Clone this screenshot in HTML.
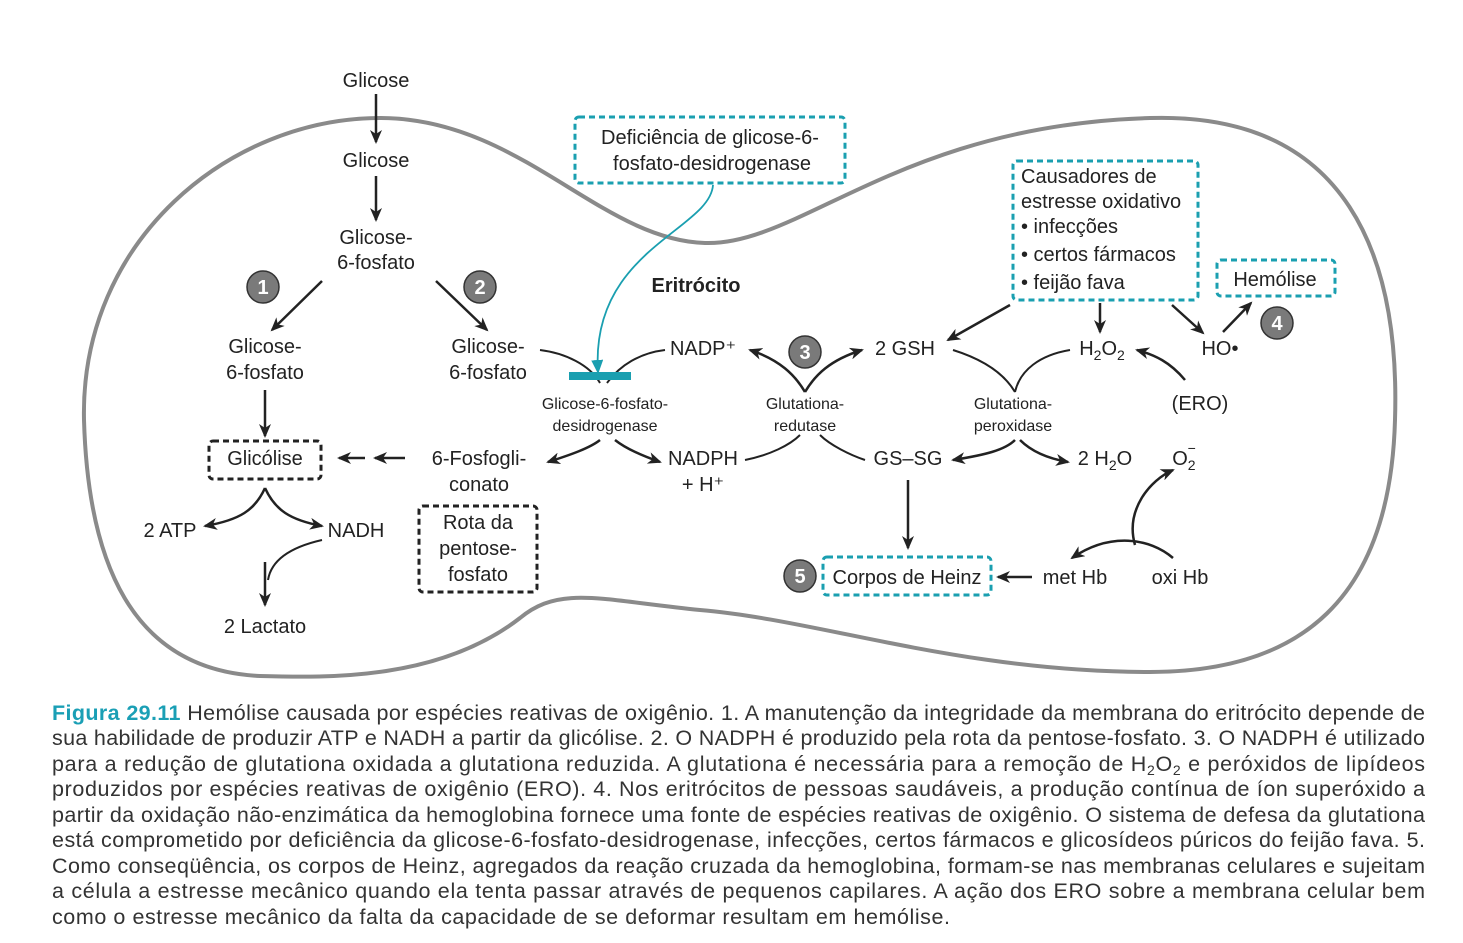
<!DOCTYPE html>
<html><head><meta charset="utf-8"><style>
html,body{margin:0;padding:0;background:#fff}
svg{display:block}
text{font-family:"Liberation Sans",sans-serif;fill:#222}
.t{font-size:20px}
.s{font-size:16px}
.c{font-size:21.5px;fill:#333}
</style></head><body>
<svg width="1463" height="943" viewBox="0 0 1463 943">
<defs>
<marker id="at" markerWidth="14" markerHeight="12" refX="12" refY="6" orient="auto" markerUnits="userSpaceOnUse"><path d="M0,0 L14,6 L0,12 L4,6z" fill="#222"/></marker>
<marker id="tl" markerWidth="14" markerHeight="12" refX="12" refY="6" orient="auto" markerUnits="userSpaceOnUse"><path d="M0,0 L14,6 L0,12z" fill="#1a9fb0"/></marker>
</defs>
<path d="M84,420 C80,240 230,118 380,118 C520,118 600,240 705,243 C800,246 900,125 1150,118 C1350,112 1400,260 1395,420 C1390,600 1300,672 1150,672 C960,672 820,620 700,610 C600,600 560,585 520,618 C440,680 330,678 260,676 C130,670 88,560 84,420 Z" fill="none" stroke="#8a8a8a" stroke-width="4"/>
<g stroke="#222" stroke-width="2.5" fill="none" marker-end="url(#at)">
<line x1="376" y1="94" x2="376" y2="142"/>
<line x1="376" y1="176" x2="376" y2="220"/>
<line x1="322" y1="281" x2="272" y2="330"/>
<line x1="436" y1="281" x2="487" y2="330"/>
<line x1="265" y1="390" x2="265" y2="436"/>
<line x1="405" y1="458" x2="375" y2="458"/>
<line x1="365" y1="458" x2="339" y2="458"/>
<path d="M265,488 C255,510 240,520 205,526"/>
<path d="M265,488 C275,510 290,520 322,526"/>
<line x1="265" y1="562" x2="265" y2="605"/>
<line x1="908" y1="480" x2="908" y2="548"/>
<line x1="1032" y1="577" x2="998" y2="577"/>
<line x1="1010" y1="305" x2="948" y2="340"/>
<line x1="1100" y1="303" x2="1100" y2="332"/>
<line x1="1172" y1="305" x2="1203" y2="333"/>
<line x1="1223" y1="332" x2="1251" y2="303"/>
<path d="M1185,380 C1170,362 1155,355 1137,350"/>
<path d="M1135,545 C1125,510 1150,480 1173,470"/>
<path d="M1173,558 C1150,538 1110,532 1072,558"/>
<path d="M600,440 C590,448 570,455 548,462"/>
<path d="M615,440 C625,448 640,455 660,462"/>
<path d="M805,392 C795,375 780,360 750,350"/>
<path d="M805,392 C815,375 830,360 862,350"/>
<path d="M1015,440 C1005,450 985,455 953,460"/>
<path d="M1020,440 C1030,450 1045,458 1068,462"/>
</g>
<g stroke="#222" stroke-width="2" fill="none">
<path d="M322,540 C300,545 272,555 268,580"/>
<path d="M540,350 C565,353 590,365 600,383"/>
<path d="M665,350 C640,353 620,365 607,383"/>
<path d="M745,460 C770,455 790,445 800,435"/>
<path d="M820,435 C830,445 850,455 865,460"/>
<path d="M953,350 C985,360 1005,375 1015,392"/>
<path d="M1070,350 C1040,355 1020,370 1015,392"/>
</g>
<path d="M713,185 C710,230 590,250 598,372" stroke="#1a9fb0" stroke-width="1.8" fill="none" marker-end="url(#tl)"/>
<rect x="569" y="372" width="62" height="8" fill="#1a9fb0"/>
<g fill="none" stroke-width="3" stroke-dasharray="6,4">
<rect x="575" y="117" width="270" height="66" rx="4" stroke="#1a9fb0"/>
<rect x="1013" y="161" width="185" height="139" rx="4" stroke="#1a9fb0"/>
<rect x="1217" y="260" width="118" height="36" rx="4" stroke="#1a9fb0"/>
<rect x="823" y="557" width="168" height="38" rx="4" stroke="#1a9fb0"/>
<rect x="209" y="441" width="112" height="38" rx="4" stroke="#222"/>
<rect x="419" y="506" width="118" height="86" rx="4" stroke="#222"/>
</g>
<g fill="#7a7a7a" stroke="#333" stroke-width="1.5">
<circle cx="263" cy="287" r="16"/><circle cx="480" cy="287" r="16"/><circle cx="805" cy="352" r="16"/><circle cx="1277" cy="323" r="16"/><circle cx="800" cy="576" r="16"/>
</g>
<g font-size="20" font-weight="bold" text-anchor="middle">
<text x="263" y="294" style="fill:#fff">1</text><text x="480" y="294" style="fill:#fff">2</text><text x="805" y="359" style="fill:#fff">3</text><text x="1277" y="330" style="fill:#fff">4</text><text x="800" y="583" style="fill:#fff">5</text>
</g>
<g text-anchor="middle">
<text class="t" x="376" y="87">Glicose</text>
<text class="t" x="376" y="167">Glicose</text>
<text class="t" x="376" y="244">Glicose-</text><text class="t" x="376" y="269">6-fosfato</text>
<text class="t" x="265" y="353">Glicose-</text><text class="t" x="265" y="379">6-fosfato</text>
<text class="t" x="488" y="353">Glicose-</text><text class="t" x="488" y="379">6-fosfato</text>
<text class="t" x="265" y="465">Glicólise</text>
<text class="t" x="479" y="465">6-Fosfogli-</text><text class="t" x="479" y="491">conato</text>
<text class="t" x="478" y="529">Rota da</text><text class="t" x="478" y="555">pentose-</text><text class="t" x="478" y="581">fosfato</text>
<text class="t" x="170" y="537">2 ATP</text>
<text class="t" x="356" y="537">NADH</text>
<text class="t" x="265" y="633">2 Lactato</text>
<text class="t" x="710" y="144">Deficiência de glicose-6-</text><text class="t" x="712" y="170">fosfato-desidrogenase</text>
<text class="t" x="696" y="292" font-weight="bold">Eritrócito</text>
<text class="s" x="605" y="409">Glicose-6-fosfato-</text><text class="s" x="605" y="431">desidrogenase</text>
<text class="s" x="805" y="409">Glutationa-</text><text class="s" x="805" y="431">redutase</text>
<text class="s" x="1013" y="409">Glutationa-</text><text class="s" x="1013" y="431">peroxidase</text>
<text class="t" x="703" y="355">NADP⁺</text>
<text class="t" x="703" y="465">NADPH</text><text class="t" x="703" y="491">+ H⁺</text>
<text class="t" x="905" y="355">2 GSH</text>
<text class="t" x="908" y="465">GS–SG</text>
<text class="t" x="1102" y="355">H<tspan font-size="14" dy="5">2</tspan><tspan dy="-5">O</tspan><tspan font-size="14" dy="5">2</tspan></text>
<text class="t" x="1220" y="355">HO•</text>
<text class="t" x="1200" y="410">(ERO)</text>
<text class="t" x="1105" y="465">2 H<tspan font-size="14" dy="5">2</tspan><tspan dy="-5">O</tspan></text>
<text class="t" x="1184" y="465">O<tspan font-size="14" dy="5">2</tspan><tspan font-size="14" dx="-8" dy="-17">−</tspan></text>
<text class="t" x="1275" y="286">Hemólise</text>
<text class="t" x="907" y="584">Corpos de Heinz</text>
<text class="t" x="1075" y="584">met Hb</text>
<text class="t" x="1180" y="584">oxi Hb</text>
</g>
<g>
<text class="t" x="1021" y="183">Causadores de</text>
<text class="t" x="1021" y="208">estresse oxidativo</text>
<text class="t" x="1021" y="233">• infecções</text>
<text class="t" x="1021" y="261">• certos fármacos</text>
<text class="t" x="1021" y="289">• feijão fava</text>
</g>
<g>
<text class="c" x="52" y="720" textLength="1373" lengthAdjust="spacing"><tspan style="fill:#1a9fb5;font-weight:bold">Figura 29.11</tspan> Hemólise causada por espécies reativas de oxigênio. 1. A manutenção da integridade da membrana do eritrócito depende de</text>
<text class="c" x="52" y="745" textLength="1373" lengthAdjust="spacing">sua habilidade de produzir ATP e NADH a partir da glicólise. 2. O NADPH é produzido pela rota da pentose-fosfato. 3. O NADPH é utilizado</text>
<text class="c" x="52" y="771" textLength="1373" lengthAdjust="spacing">para a redução de glutationa oxidada a glutationa reduzida. A glutationa é necessária para a remoção de H<tspan font-size="14" dy="4">2</tspan><tspan dy="-4">O</tspan><tspan font-size="14" dy="4">2</tspan><tspan dy="-4"> e peróxidos de lipídeos</tspan></text>
<text class="c" x="52" y="796" textLength="1373" lengthAdjust="spacing">produzidos por espécies reativas de oxigênio (ERO). 4. Nos eritrócitos de pessoas saudáveis, a produção contínua de íon superóxido a</text>
<text class="c" x="52" y="822" textLength="1373" lengthAdjust="spacing">partir da oxidação não-enzimática da hemoglobina fornece uma fonte de espécies reativas de oxigênio. O sistema de defesa da glutationa</text>
<text class="c" x="52" y="847" textLength="1373" lengthAdjust="spacing">está comprometido por deficiência da glicose-6-fosfato-desidrogenase, infecções, certos fármacos e glicosídeos púricos do feijão fava. 5.</text>
<text class="c" x="52" y="873" textLength="1373" lengthAdjust="spacing">Como conseqüência, os corpos de Heinz, agregados da reação cruzada da hemoglobina, formam-se nas membranas celulares e sujeitam</text>
<text class="c" x="52" y="898" textLength="1373" lengthAdjust="spacing">a célula a estresse mecânico quando ela tenta passar através de pequenos capilares. A ação dos ERO sobre a membrana celular bem</text>
<text class="c" x="52" y="924" textLength="898" lengthAdjust="spacing">como o estresse mecânico da falta da capacidade de se deformar resultam em hemólise.</text>
</g>
</svg>
</body></html>
